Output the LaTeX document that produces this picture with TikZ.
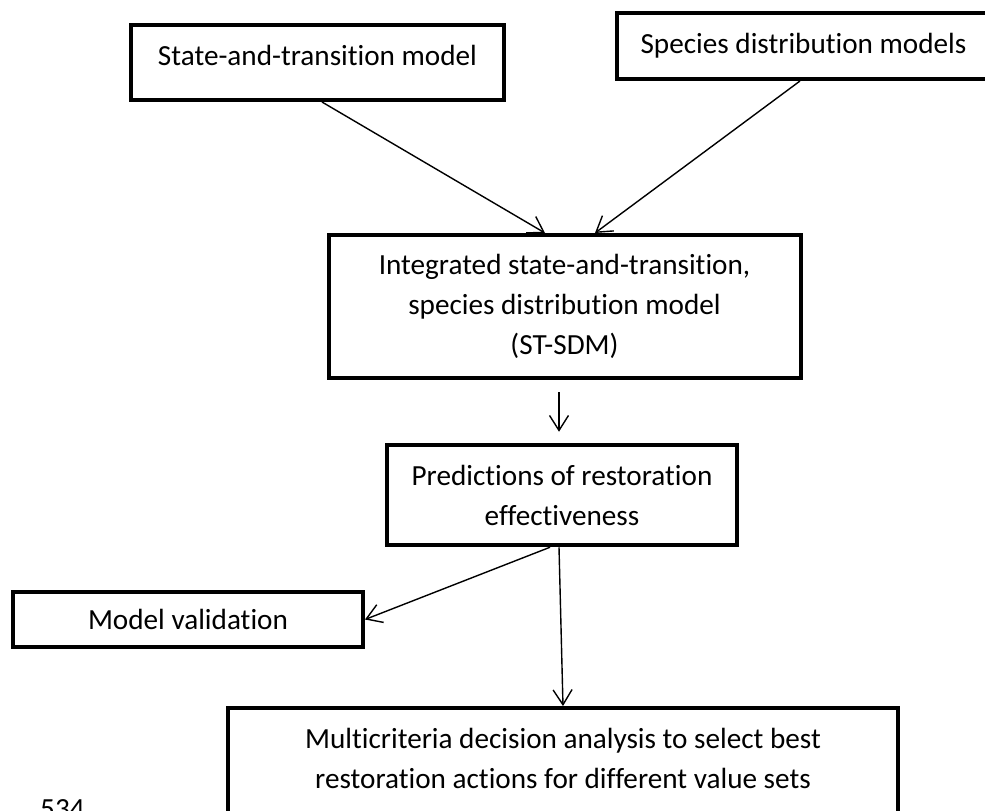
\documentclass[tikz,border=0pt]{standalone}
\usepackage{fontspec}
\setmainfont{Carlito}[Ligatures=NoCommon]
\usepackage{tikz}
\usetikzlibrary{arrows.meta,positioning,calc}

\begin{document}
\begin{tikzpicture}[
  x=1pt,y=-1pt,
  font=\fontsize{29.2}{40}\selectfont,
  box/.style={draw,line width=4pt,inner sep=0pt,align=center},
  fl/.style={-{Straight Barb[length=15pt,width=19pt]},line width=1.4pt}
]
\useasboundingbox (0,0) rectangle (985,811);
\node[box,minimum width=373pt,minimum height=75pt,text depth=13.6pt] (stm) at (317.5,62.5) {State-and-transition model};
\node[box,minimum width=373pt,minimum height=66pt,text depth=6pt] (sdm) at (803.5,46) {Species distribution models};
\node[box,minimum width=472pt,minimum height=143pt] (ist) at (564.5,306.5)
  {Integrated state-and-transition,\\species distribution model\\(ST-SDM)};
\node[box,minimum width=350pt,minimum height=100.5pt] (pred) at (562,495) {Predictions of restoration\\effectiveness};
\node[box,minimum width=350pt,minimum height=55pt] (val) at (188,619.5) {Model validation};
\node[box,minimum width=670pt,minimum height=132pt,text depth=32pt] (mcda) at (563,774)
  {Multicriteria decision analysis to select best\\restoration actions for different value sets};
\node[anchor=base west,inner sep=0pt] (ln) at (40,818) {534};
\draw[fl] ([xshift=4.5pt]stm.south) -- ([xshift=-19.5pt]ist.north);
\draw[fl] ([xshift=-3.5pt]sdm.south) -- ([xshift=30.5pt]ist.north);
\draw[fl,shorten <=12pt,shorten >=11pt] ([xshift=-5.5pt]ist.south) -- ([xshift=-3pt]pred.north);
\draw[fl] ([xshift=-12pt]pred.south) -- (val.east);
\draw[fl] ([xshift=-3pt]pred.south) -- (mcda.north);
\end{tikzpicture}
\end{document}
